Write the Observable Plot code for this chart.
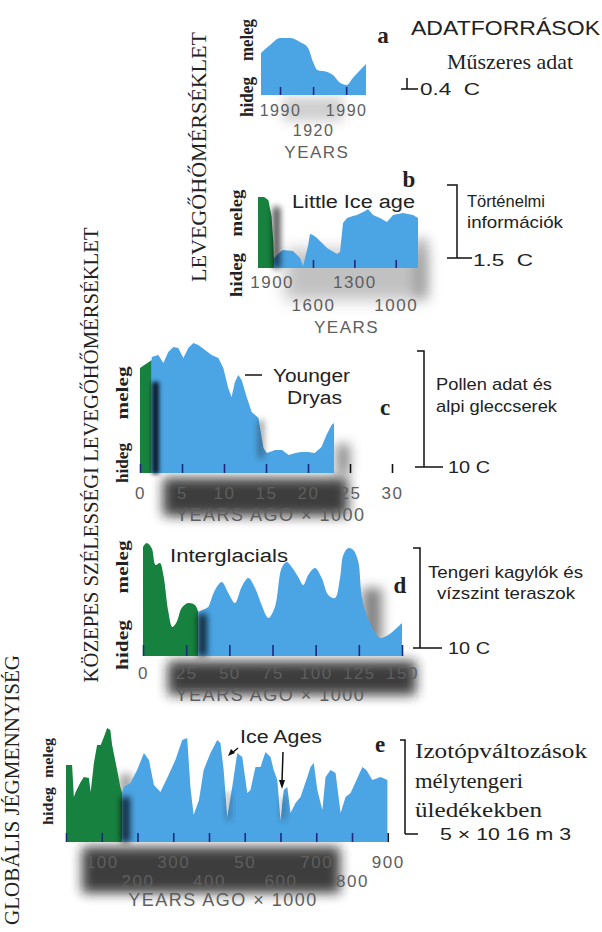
<!DOCTYPE html>
<html><head><meta charset="utf-8">
<script src="https://cdn.jsdelivr.net/npm/d3@7"></script>
<script src="https://cdn.jsdelivr.net/npm/@observablehq/plot@0.6"></script>
<style>
body{margin:0;background:#fff;}
#root{position:relative;width:602px;height:932px;overflow:hidden;background:#fff;}
#root svg{overflow:visible;display:block;}
</style></head><body><div id="root"></div><script>
// ---------- DATA ----------
// panel a: instrumental record (year, relative temperature)
const aYears = [1857,1868,1880,1892,1904,1914,1920,1925,1937,1944,1953,1961,1968,1977,1984];
const aTemp  = [42,50,57,57,53,47,33,25,23,20,12,10,17,25,31];
const aTicks = [1880,1920,1960];
const aTickLabels = ["1990","1920","1990"];
const aTickRows = [1,2,1];

// panel b: historical information (year, relative temperature)
const bGreenYears = [1999,1955,1924,1900,1888,1881];
const bGreenTemp  = [71,71,68,51,25,1];
const bBlueYears = [1883,1839,1818,1745,1694,1672,1636,1622,1600,1571,1498,1426,1404,1382,1353,1310,1281,1222,1201,1164,1114,1063,1019,947,874,838];
const bBlueTemp  = [10,16,18,17,10,2,22,34,33,30,20,14,16,45,50,52,53,57,59,53,50,46,53,55,53,50];
const bTicks = [1900,1600,1300,1000];
const bTickLabels = ["1900","1600","1300","1000"];
const bTickRows = [1,2,1,2];
const bTickMarks = [1600,1300,1000];

// panel c: pollen data (thousand years ago, relative temperature)
const cGreenAge  = [0,1.4];
const cGreenTemp = [105,113];
const cBlueAge  = [1.39,2.18,2.78,3.37,3.97,4.56,5.16,5.75,6.35,6.94,7.74,8.53,9.33,9.92,10.5,10.9,11.3,11.7,12.1,12.7,13.3,13.7,14.1,14.7,15.1,16.1,16.9,17.7,18.5,19.2,20.0,20.8,21.6,22.2,22.8,23.1];
const cBlueTemp = [116,118,110,121,126,125,115,125,130,128,123,118,115,105,85,76,91,98,93,76,61,58,55,25,20,23,23,18,20,21,21,20,26,38,48,50];
const cTicks = [0,5,10,15,20,25,30];
const cTickLabels = ["0","5","10","15","20","25","30"];

// panel d: sea shells and terraces (thousand years ago, relative temperature)
const dGreenAge  = [0,2.1,5.0,7.3,9.8,11.8,14.7,17.0,19.5,22.4,26.2,30.1,32.0];
const dGreenTemp = [109,113,108,91,93,81,44,29,34,48,53,51,44];
const dBlueAge  = [32.0,36.9,37.8,41.7,45.6,49.4,53.3,57.1,61.0,64.9,68.7,72.6,76.4,80.3,83.2,86.1,89.9,92.8,95.7,99.6,103.5,107.3,111.2,114.1,116.0,118.9,121.8,124.7,126.6,129.5,134.3,137.2,142.0,146.9,150];
const dBlueTemp = [44,48,49,66,74,63,53,69,78,68,51,38,49,88,94,89,79,71,81,88,78,61,58,78,101,108,106,94,61,41,24,18,21,28,33];
const dTicks = [0,25,50,75,100,125,150];
const dTickLabels = ["0","25","50","75","100","125","150"];

// panel e: global ice volume from deep-sea isotopes (thousand years ago, relative)
const eGreenAge  = [0,17,22,27,41,50,64,69,78,87,97,106,115,124,129,143,152,157];
const eGreenIce  = [77,77,45,50,60,65,64,50,79,97,97,105,114,112,97,72,55,49];
const eBlueAge = [157,162,180,199,218,232,246,264,283,306,325,339,348,357,372,385,404,423,432,441,451,465,479,493,507,516,530,544,558,572,581,591,600,609,619,628,642,656,675,684,693,703,717,726,740,754,768,782,796,810,829,840,857,880,899];
const eBlueIce = [49,55,59,72,89,82,57,50,64,82,102,104,55,27,42,72,89,102,99,72,25,55,89,85,49,52,75,75,90,85,72,62,22,52,55,29,39,45,65,75,79,52,32,65,72,69,29,45,49,60,75,72,62,65,62];
const eTicks = [0,100,200,300,400,500,600,700,800,900];
const eTickLabels = ["","100","200","300","400","50","600","700","800","900"];
const eTickRows = [1,1,2,1,2,1,2,1,2,1];

// ---------- STYLE ----------
const BLUE = "#4ba4e4", GREEN = "#17823f", NAVY = "#1b2a7c";
const SANS = "'Liberation Sans', Arial, sans-serif";
const SERIF = "'Liberation Serif', 'Times New Roman', serif";
const root = document.getElementById("root");

function zip(xs, ys){ return xs.map((x,i)=>({x, y: ys[i]})); }
function place(el, left, top, z){
  const d = document.createElement("div");
  d.style.cssText = `position:absolute;left:${left}px;top:${top}px;z-index:${z}`;
  d.appendChild(el); root.appendChild(d);
}

function panel(p){
  const ticks = p.tickLabelsAt.map((v,i)=>({v, label: p.tickLabels[i], row: p.tickRows ? p.tickRows[i] : 1}));
  const marks = [];
  if (p.green) marks.push(Plot.areaY(p.green, {x:"x", y:"y", fill: GREEN, curve: p.curve}));
  marks.push(Plot.areaY(p.blue, {x:"x", y:"y", fill: BLUE, curve: p.curve}));
  const lastX = p.blue[p.blue.length-1].x;
  marks.push(Plot.ruleX(p.tickMarks, {x: d=>d, y1: 0, y2: p.tickLen, stroke: d => (p.domain[0] < p.domain[1] ? d > lastX : d < lastX) ? "#111" : NAVY, strokeWidth: 1.6}));
  marks.push(Plot.text(ticks.filter(t=>t.row===1), {x:"v", y:0, dy: p.row1Dy, text:"label", fontSize: p.tickSize}));
  marks.push(Plot.text(ticks.filter(t=>t.row===2), {x:"v", y:0, dy: p.row2Dy, text:"label", fontSize: p.tickSize}));
  marks.push(Plot.text([p.title], {x: p.titleX, y: 0, dy: p.titleDy, text: d=>d, fontSize: p.titleSize}));
  const chart = Plot.plot({
    width: p.W, height: p.H + 70,
    marginLeft: 0, marginRight: 0, marginTop: 0, marginBottom: 70,
    x: {domain: p.domain, axis: null},
    y: {domain: [0, p.H], axis: null},
    style: {background: "transparent", fontFamily: SANS, color: "#5e5e5e", letterSpacing: p.ls || "1.5px", overflow: "visible"},
    marks
  });
  place(chart, p.left, p.baseline - p.H, 2);
}

// ---------- LAYERS ----------
function layer(z){
  const s = d3.select(root).append("svg").attr("width",602).attr("height",932)
    .style("position","absolute").style("left","0px").style("top","0px").style("z-index",z).style("pointer-events","none");
  const defs = s.append("defs");
  [2,3,4,6,8].forEach(b=>{
    defs.append("filter").attr("id",`bl${b}_${z}`).attr("x","-100%").attr("y","-100%").attr("width","300%").attr("height","300%")
      .append("feGaussianBlur").attr("stdDeviation", b);
  });
  return s;
}
function shade(s, z, x, y, w, h, fill, op, blur){
  s.append("rect").attr("x",x).attr("y",y).attr("width",w).attr("height",h)
   .attr("fill",fill).attr("opacity",op).attr("filter",`url(#bl${blur}_${z})`);
}
const under = layer(1);
shade(under,1, 283,97,60,24,"#888",0.4,6);
shade(under,1, 285,250,140,50,"#777",0.45,8);
shade(under,1, 414,238,14,60,"#666",0.45,6);
shade(under,1, 163,478,185,38,"#1a1a1a",0.85,6);
shade(under,1, 336,444,14,30,"#333",0.55,6);
shade(under,1, 168,661,248,34,"#1a1a1a",0.85,6);
shade(under,1, 362,588,20,56,"#333",0.6,6);
shade(under,1, 82,847,258,46,"#1a1a1a",0.85,6);
shade(under,1, 120,774,12,56,"#444",0.5,4);

// ---------- PANELS ----------
panel({left:261, baseline:95, H:62, W:105, domain:[1857,1984], curve:"monotone-x",
  blue: zip(aYears, aTemp), tickMarks: aTicks, tickLabelsAt: aTicks, tickLabels: aTickLabels, tickRows: aTickRows,
  tickLen: 8, tickSize: 16, row1Dy: 15, row2Dy: 35, title: "YEARS", titleX: 1924, titleDy: 57, titleSize: 17});

panel({left:258, baseline:268, H:76, W:160, domain:[1999,838], curve:"linear",
  green: zip(bGreenYears, bGreenTemp), blue: zip(bBlueYears, bBlueTemp),
  tickMarks: bTickMarks, tickLabelsAt: bTicks, tickLabels: bTickLabels, tickRows: bTickRows,
  tickLen: 8, tickSize: 17, row1Dy: 14, row2Dy: 37, title: "YEARS", titleX: 1360, titleDy: 59, titleSize: 17});

panel({left:140, baseline:473, H:135, W:252, domain:[0,30], curve:"linear",
  green: zip(cGreenAge, cGreenTemp), blue: zip(cBlueAge, cBlueTemp),
  tickMarks: cTicks, tickLabelsAt: cTicks, tickLabels: cTickLabels,
  tickLen: 9, tickSize: 17, row1Dy: 20, row2Dy: 40, title: "YEARS AGO × 1000", titleX: 15.5, titleDy: 42, titleSize: 18});

panel({left:143, baseline:656, H:116, W:259, domain:[0,150], curve:"catmull-rom",
  green: zip(dGreenAge, dGreenTemp), blue: zip(dBlueAge, dBlueTemp),
  tickMarks: dTicks, tickLabelsAt: dTicks, tickLabels: dTickLabels,
  tickLen: 11, tickSize: 17, row1Dy: 17, row2Dy: 37, title: "YEARS AGO × 1000", titleX: 73.5, titleDy: 39, titleSize: 18});

panel({left:65.5, baseline:842, H:118, W:321.75, domain:[0,900], curve:"linear",
  green: zip(eGreenAge, eGreenIce), blue: zip(eBlueAge, eBlueIce),
  tickMarks: eTicks, tickLabelsAt: eTicks, tickLabels: eTickLabels, tickRows: eTickRows,
  tickLen: 9, tickSize: 17, row1Dy: 20, row2Dy: 39, title: "YEARS AGO × 1000", titleX: 438, titleDy: 58, titleSize: 18});

// ---------- OVERLAY (front shadows, annotations) ----------
const over = layer(3);
shade(over,3, 152,382,7,92,"#000",0.85,2);
shade(over,3, 198,614,9,42,"#000",0.75,3);
shade(over,3, 273,207,7,61,"#000",0.75,3);
shade(over,3, 121,797,9,45,"#000",0.75,3);
shade(over,3, 258,420,6,38,"#222",0.45,3);
shade(over,3, 226,792,5,28,"#222",0.35,3);
shade(over,3, 281,797,5,23,"#222",0.35,3);

function T(s, x, y, o={}){
  const t = over.append("text").text(s)
    .attr("font-family", o.family || SANS).attr("font-size", o.size || 17)
    .attr("fill", o.fill || "#222").attr("text-anchor", o.anchor || "start");
  if (o.weight) t.attr("font-weight", o.weight);
  if (o.len) t.attr("textLength", o.len).attr("lengthAdjust", "spacingAndGlyphs");
  if (o.rot) t.attr("x",0).attr("y",0).attr("transform",`translate(${x},${y}) rotate(-90)`).attr("text-anchor","middle");
  else t.attr("x",x).attr("y",y);
  return t;
}
function P(d, w=1.5){ over.append("path").attr("d",d).attr("fill","none").attr("stroke","#111").attr("stroke-width",w); }
function A(d){ over.append("path").attr("d",d).attr("fill","#111"); }

// header + panel a
T("ADATFORRÁSOK", 411, 35, {size:21, len:189});
T("Műszeres adat", 447, 69, {family:SERIF, size:21, len:126});
T("a", 383, 43, {family:SERIF, weight:"bold", size:23, anchor:"middle"});
P("M407,78 V89 M401,89 H418");
T("0.4\u00a0\u00a0C", 420, 95, {size:16, len:60});
// panel b
T("b", 409, 187, {family:SERIF, weight:"bold", size:23, anchor:"middle"});
T("Little Ice age", 292, 208, {size:18, len:123});
T("Történelmi", 467, 207, {size:17, len:78});
T("információk", 467, 228, {size:17, len:96});
P("M447,185 H457 V258 M447,258 H472");
T("1.5\u00a0\u00a0C", 473, 266, {size:17, len:60});
// panel c
T("c", 385, 415, {family:SERIF, weight:"bold", size:23, anchor:"middle"});
P("M245,375 H262");
T("Younger", 273, 382, {size:18, len:77});
T("Dryas", 287, 404, {size:18, len:55});
P("M417,351 H424 V467 M415,467 H443");
T("10 C", 448, 473, {size:17, len:42});
T("Pollen adat és", 436, 390, {size:17, len:116});
T("alpi gleccserek", 436, 412, {size:17, len:121});
// panel d
T("d", 400, 593, {family:SERIF, weight:"bold", size:23, anchor:"middle"});
T("Interglacials", 170, 562, {size:18, len:118});
P("M413,548 H420 V648 M413,648 H442");
T("10 C", 448, 654, {size:17, len:42});
T("Tengeri kagylók és", 428, 578, {size:17, len:155});
T("vízszint teraszok", 437, 599, {size:17, len:138});
// panel e
T("e", 380, 752, {family:SERIF, weight:"bold", size:23, anchor:"middle"});
T("Ice Ages", 240, 743, {size:18, len:82});
P("M238,748 L232,753"); A("M228,756 L231,749 L235,753 Z");
P("M283,752 L282,782"); A("M279,780 L282,789 L285,780 Z");
P("M400,740 H405 V834 M405,834 H418");
T("Izotópváltozások", 415, 758, {family:SERIF, size:20, len:172});
T("mélytengeri", 415, 788, {family:SERIF, size:20, len:108});
T("üledékekben", 415, 817, {family:SERIF, size:20, len:127});
T("5 × 10 16 m 3", 440, 840, {size:17, len:131});

// vertical titles
T("LEVEGŐHŐMÉRSÉKLET", 206, 157, {family:SERIF, size:21, len:250, rot:true});
T("KÖZEPES SZÉLESSÉGI LEVEGŐHŐMÉRSÉKLET", 98, 455, {family:SERIF, size:20, len:455, rot:true});
T("GLOBÁLIS JÉGMENNYISÉG", 19, 790, {family:SERIF, size:20, len:270, rot:true});

// hideg / meleg labels
const hm = [
  [253, 97, 40, 40, 42, 18],
  [242, 275, 44, 213, 47, 16],
  [128, 463, 40, 393, 53, 16],
  [128, 645, 50, 567, 53, 16],
  [53, 806, 38, 758, 40, 15]
];
hm.forEach(([x, yh, lh, ym, lm, sz]) => {
  T("hideg", x, yh, {family:SERIF, weight:"bold", size:sz, len:lh, rot:true});
  T("meleg", x, ym, {family:SERIF, weight:"bold", size:sz, len:lm, rot:true});
});
</script></body></html>
